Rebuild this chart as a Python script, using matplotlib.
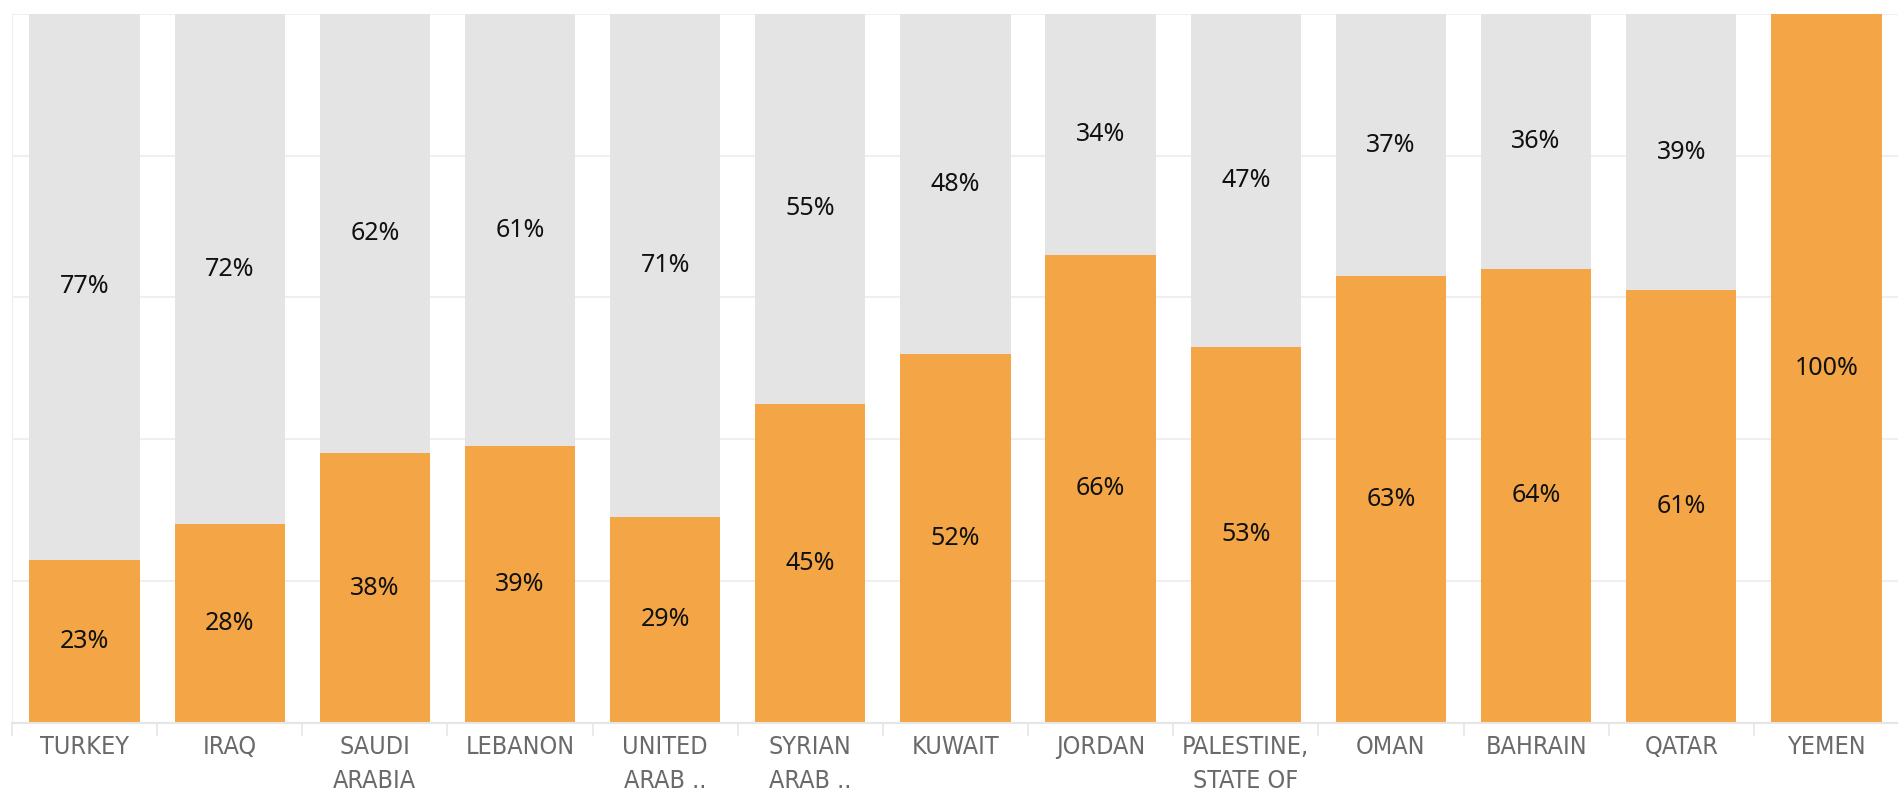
import numpy as np
import matplotlib.pyplot as plt
from matplotlib import font_manager
from matplotlib.ticker import MultipleLocator, FixedLocator

countries = ["TURKEY", "IRAQ", "SAUDI\nARABIA", "LEBANON", "UNITED\nARAB ..",
             "SYRIAN\nARAB ..", "KUWAIT", "JORDAN", "PALESTINE,\nSTATE OF",
             "OMAN", "BAHRAIN", "QATAR", "YEMEN"]
share_yes = [23, 28, 38, 39, 29, 45, 52, 66, 53, 63, 64, 61, 100]
share_no = [77, 72, 62, 61, 71, 55, 48, 34, 47, 37, 36, 39, 0]

orange = "#f4a646"
grey = "#e4e4e4"

# narrow face for the country names if one is around
cond = font_manager.FontProperties(family="DejaVu Sans", stretch="condensed")
cond_file = font_manager.findfont(cond, fallback_to_default=True)
if "Condensed" in cond_file:
    label_font = dict(family="DejaVu Sans", stretch="condensed")
else:
    label_font = dict(family="Roboto")

fig = plt.figure(figsize=(18.99, 7.96), dpi=100)
ax = fig.add_axes([0.0063, 0.092, 0.9937, 0.8905])

x = np.arange(len(countries))
yes = np.array(share_yes) / 100
no = np.array(share_no) / 100
ax.bar(x, yes, width=0.76, color=orange, zorder=2)
ax.bar(x, no, width=0.76, bottom=yes, color=grey, zorder=2)

for i in range(len(x)):
    if share_yes[i] > 0:
        ax.text(x[i], yes[i] / 2, f"{share_yes[i]}%", ha="center", va="center",
                fontsize=18, color="#111111", family="Noto Sans", fontweight=500, zorder=3)
    if share_no[i] > 0:
        ax.text(x[i], yes[i] + no[i] / 2, f"{share_no[i]}%", ha="center", va="center",
                fontsize=18, color="#111111", family="Noto Sans", fontweight=500, zorder=3)

ax.set_xlim(-0.5, len(x) - 0.5)
ax.set_ylim(0, 1)
ax.yaxis.set_major_locator(MultipleLocator(0.2))
ax.set_yticklabels([])
ax.tick_params(axis="y", length=0)
ax.grid(axis="y", color="#efefef", linewidth=1.5, zorder=0)

ax.set_xticks(x)
ax.set_xticklabels(countries, fontsize=18, color="#6a6a6a", linespacing=1.5,
                   va="top", **label_font)
ax.tick_params(axis="x", which="major", length=0, pad=9)
ax.xaxis.set_minor_locator(FixedLocator(np.arange(len(x) + 1) - 0.5))
ax.tick_params(axis="x", which="minor", length=9, color="#e6e6e6", width=1.2)

for side in ["top", "right"]:
    ax.spines[side].set_visible(False)
ax.spines["left"].set_color("#f0f0f0")
ax.spines["bottom"].set_color("#e6e6e6")
ax.spines["bottom"].set_linewidth(1.5)

fig.savefig("out.png", dpi=100)
